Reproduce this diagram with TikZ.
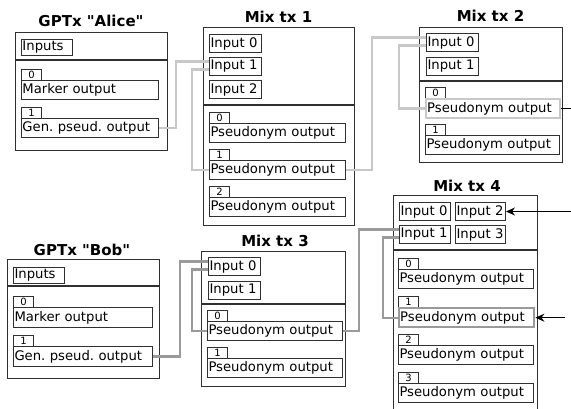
\documentclass[tikz,border=0pt]{standalone}
\usepackage{fontspec}
\setmainfont{DejaVu Sans}[Ligatures=TeXOff]
\usetikzlibrary{arrows.meta}
\definecolor{lightc}{HTML}{C8C8C8}
\definecolor{darkc}{HTML}{9A9A9A}
\definecolor{linec}{HTML}{303030}
\begin{document}
\begin{tikzpicture}[x=1pt,y=-1pt,
  txbox/.style={draw=linec, line width=1.2pt, fill=white, anchor=north west, inner sep=0pt},
  ttl/.style={font=\fontsize{15}{16}\selectfont\bfseries},
  divider/.style={draw=linec, line width=1.2pt},
  cell/.style={draw=linec, line width=1pt, anchor=north west, inner xsep=1pt, inner ysep=0pt,
    font=\fontsize{13.2}{14}\selectfont, minimum height=18pt, text width=#1, align=left},
  tag/.style={draw=linec, line width=1pt, anchor=north west, inner sep=0pt,
    font=\fontsize{10}{10}\selectfont, minimum width=20pt, minimum height=11pt},
  hilight/.style={draw=#1, line width=2.4pt},
  conlight/.style={draw=lightc, line width=2.4pt},
  condark/.style={draw=darkc, line width=2.4pt},
  arr/.style={draw=black, line width=1.2pt, -{Stealth[length=9pt,width=8pt]}},
]
\useasboundingbox (0,0) rectangle (571,409);
\coordinate (edgeR) at (571,0);

% ---------- GPTx Alice ----------
\node[txbox, minimum width=152pt, minimum height=118pt] (alice) at (15,32) {};
\node[ttl] (alicettl) at (91,21) {GPTx "Alice"};
\draw[divider] (15,60) -- (167,60);
\node[cell=49pt, minimum height=16pt] (alicein) at (21,39) {Inputs};
\node[tag] (alicet0) at (21,69) {0};
\node[cell=135pt, minimum height=19pt] (alicemark) at (21,80) {Marker~output};
\node[tag] (alicet1) at (21,107) {1};
\node[cell=135pt, minimum height=19pt] (alicegen) at (21,118) {Gen.~pseud.~output};

% ---------- Mix tx 1 ----------
\node[txbox, minimum width=151pt, minimum height=198pt] (mixa) at (203,27) {};
\node[ttl] (mixattl) at (278.5,17) {Mix tx 1};
\draw[divider] (203,105) -- (354,105);
\node[cell=50pt] (mixain0) at (209,34) {Input~0};
\node[cell=50pt] (mixain1) at (209,57) {Input~1};
\node[cell=50pt] (mixain2) at (209,80) {Input~2};
\node[tag] (mixat0) at (209,112) {0};
\node[cell=134pt, minimum height=19pt] (mixapo0) at (209,123) {Pseudonym~output};
\node[tag] (mixat1) at (209,149) {1};
\node[cell=134pt, minimum height=19pt] (mixapo1) at (209,160) {Pseudonym~output};
\node[tag] (mixat2) at (209,186) {2};
\node[cell=134pt, minimum height=19pt] (mixapo2) at (209,197) {Pseudonym~output};

% ---------- Mix tx 2 ----------
\node[txbox, minimum width=143pt, minimum height=135pt] (mixb) at (419,27) {};
\node[ttl] (mixbttl) at (490.5,16) {Mix tx 2};
\draw[divider] (419,81) -- (562,81);
\node[cell=50pt] (mixbin0) at (426,33) {Input~0};
\node[cell=50pt] (mixbin1) at (426,57) {Input~1};
\node[tag] (mixbt0) at (425,87) {0};
\node[cell=132pt, minimum height=19pt, hilight=lightc] (mixbpo0) at (425,98) {Pseudonym~output};
\node[tag] (mixbt1) at (425,124) {1};
\node[cell=132pt, minimum height=19pt] (mixbpo1) at (425,135) {Pseudonym~output};

% ---------- GPTx Bob ----------
\node[txbox, minimum width=152pt, minimum height=119pt] (bob) at (7,259) {};
\node[ttl] (bobttl) at (82,249.5) {GPTx "Bob"};
\draw[divider] (7,286) -- (159,286);
\node[cell=49pt, minimum height=16pt] (bobin) at (13,267) {Inputs};
\node[tag] (bobt0) at (13,296) {0};
\node[cell=137pt, minimum height=20pt] (bobmark) at (13,307) {Marker~output};
\node[tag] (bobt1) at (13,335) {1};
\node[cell=137pt, minimum height=20pt] (bobgen) at (13,346) {Gen.~pseud.~output};

% ---------- Mix tx 3 ----------
\node[txbox, minimum width=144pt, minimum height=135pt] (mixc) at (201,251) {};
\node[ttl] (mixcttl) at (275,241) {Mix tx 3};
\draw[divider] (201,304) -- (345,304);
\node[cell=50pt] (mixcin0) at (208,257) {Input~0};
\node[cell=50pt] (mixcin1) at (208,281) {Input~1};
\node[tag] (mixct0) at (207,310) {0};
\node[cell=133pt, minimum height=19pt] (mixcpo0) at (207,321) {Pseudonym~output};
\node[tag] (mixct1) at (207,347) {1};
\node[cell=133pt, minimum height=19pt] (mixcpo1) at (207,358) {Pseudonym~output};

% ---------- Mix tx 4 ----------
\node[txbox, minimum width=144pt, minimum height=240pt] (mixd) at (393,195) {};
\node[ttl] (mixdttl) at (467,186) {Mix tx 4};
\draw[divider] (393,250) -- (537,250);
\node[cell=49pt] (mixdin0) at (399,202) {Input~0};
\node[cell=48pt] (mixdin2) at (455,202) {Input~2};
\node[cell=49pt] (mixdin1) at (399,225) {Input~1};
\node[cell=48pt] (mixdin3) at (455,225) {Input~3};
\node[tag] (mixdt0) at (398,258) {0};
\node[cell=133pt, minimum height=19pt] (mixdpo0) at (398,269) {Pseudonym~output};
\node[tag] (mixdt1) at (398,296) {1};
\node[cell=133pt, minimum height=19pt, hilight=darkc] (mixdpo1) at (398,307) {Pseudonym~output};
\node[tag] (mixdt2) at (398,334) {2};
\node[cell=133pt, minimum height=19pt] (mixdpo2) at (398,345) {Pseudonym~output};
\node[tag] (mixdt3) at (398,372) {3};
\node[cell=133pt, minimum height=19pt] (mixdpo3) at (398,383) {Pseudonym~output};

% ---------- connectors (light) ----------
\draw[conlight] (alicegen.east) -- ++(17,0) |- ([yshift=5pt]mixain1.west);
\draw[conlight] ([yshift=-3pt]mixain1.west) -- ++(-17,0) |- (mixapo1.west);
\draw[conlight] (mixapo1.east) -- ++(26,0) |- ([yshift=5pt]mixbin0.west);
\draw[conlight] ([yshift=-3pt]mixbin0.west) -- ++(-27,0) |- (mixbpo0.west);
\draw[black, line width=1.2pt] (mixbpo0.east) -- (mixbpo0.east -| edgeR);

% ---------- connectors (dark) ----------
\draw[condark] (bobgen.east) -- ++(27,0) |- ([yshift=5pt]mixcin0.west);
\draw[condark] ([yshift=-3pt]mixcin0.west) -- ++(-16,0) |- (mixcpo0.west);
\draw[condark] (mixcpo0.east) -- ++(16,0) |- ([yshift=5pt]mixdin1.west);
\draw[condark] ([yshift=-3pt]mixdin1.west) -- ++(-16,0) |- (mixdpo1.west);

% ---------- incoming arrows ----------
\draw[arr] (mixdin2.east -| edgeR) -- (mixdin2.east);
\draw[arr] ([xshift=30pt]mixdpo1.east) -- (mixdpo1.east);
\end{tikzpicture}
\end{document}
